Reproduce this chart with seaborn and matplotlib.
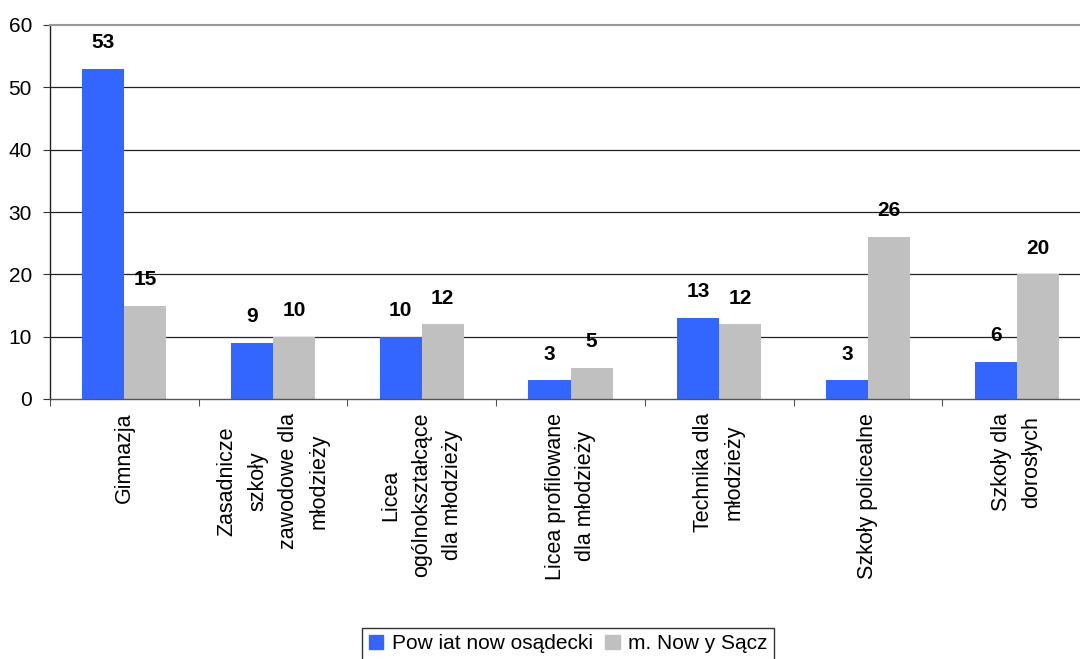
import matplotlib
matplotlib.use("Agg")
import matplotlib.pyplot as plt
import seaborn as sns
import pandas as pd
import numpy as np

# dane
kategorie = ["Gimnazja",
             "Zasadnicze\nszkoły\nzawodowe dla\nmłodzieży",
             "Licea\nogólnokształcące\ndla młodzieży",
             "Licea profilowane\ndla młodzieży",
             "Technika dla\nmłodzieży",
             "Szkoły policealne",
             "Szkoły dla\ndorosłych"]
powiat = [53, 9, 10, 3, 13, 3, 6]
miasto = [15, 10, 12, 5, 12, 26, 20]
serie = ["Pow iat now osądecki", "m. Now y Sącz"]
kolory = ["#3366FF", "#C0C0C0"]
y_ticks = [0, 10, 20, 30, 40, 50, 60]

df = pd.DataFrame({
    "kat": kategorie * 2,
    "wartosc": powiat + miasto,
    "seria": [serie[0]] * len(kategorie) + [serie[1]] * len(kategorie),
})

sns.set_style("white")
plt.rcParams["font.family"] = ["Liberation Sans", "DejaVu Sans"]
plt.rcParams["text.color"] = "black"
plt.rcParams["xtick.color"] = "black"
plt.rcParams["ytick.color"] = "black"

fig = plt.figure(figsize=(10.8, 6.59), dpi=100)
ax = fig.add_axes([50 / 1080, 1 - 399 / 659, 1041 / 1080, 374 / 659])

sns.barplot(data=df, x="kat", y="wartosc", hue="seria", palette=kolory,
            width=0.565, gap=0, saturation=1, linewidth=0, ax=ax, legend=True)

for c in ax.containers:
    ax.bar_label(c, fmt="%d", padding=12, fontsize=15, fontweight="bold",
                 color="black")

ax.set_ylim(0, 60)
ax.set_xlim(-0.5, len(kategorie) - 0.5)
ax.set_yticks(y_ticks)
ax.set_yticklabels([str(v) for v in y_ticks], fontsize=15)
ax.set_xlabel("")
ax.set_ylabel("")

# etykiety osi X pionowo
ax.set_xticks(range(len(kategorie)))
ax.set_xticklabels(kategorie, rotation=90, fontsize=15.5, linespacing=1.6,
                   ha="center", va="top", multialignment="center")
ax.tick_params(axis="x", which="major", length=0, pad=10)
ax.set_xticks(np.arange(-0.5, len(kategorie), 1), minor=True)
ax.tick_params(axis="x", which="minor", length=5, width=0.8, color="#555555",
               direction="out", bottom=True)
ax.tick_params(axis="y", length=5, width=0.8, direction="out", left=True, pad=8,
               color="#333333")

for v in y_ticks[1:-1]:
    ax.axhline(v, color="#222222", linewidth=0.9, zorder=0)

ax.spines["left"].set_color("#222222")
ax.spines["left"].set_linewidth(1.0)
ax.spines["bottom"].set_color("#555555")
ax.spines["bottom"].set_linewidth(1.0)
ax.spines["top"].set_color("#999999")
ax.spines["top"].set_linewidth(1.5)
ax.spines["right"].set_visible(False)

ax.get_legend().remove()
uchwyty = [plt.Rectangle((0, 0), 1, 1, color=k) for k in kolory]
leg = fig.legend(handles=uchwyty, labels=serie, loc="upper center",
                 bbox_to_anchor=(568 / 1080, 1 - 628 / 659), ncol=2, fontsize=15,
                 frameon=True, fancybox=False, edgecolor="black", handlelength=0.7,
                 handleheight=0.7, handletextpad=0.4, columnspacing=0.6,
                 borderpad=0.3, borderaxespad=0)
leg.get_frame().set_linewidth(1.0)

fig.savefig("out.png", dpi=100)
